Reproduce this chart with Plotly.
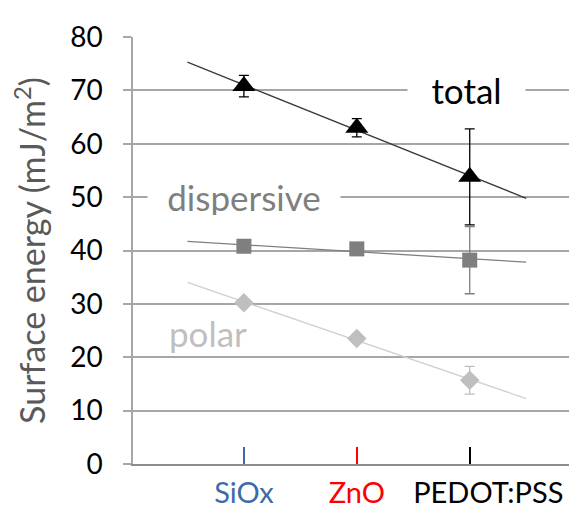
import numpy as np
import plotly.graph_objects as go

categories = ["SiOx", "ZnO", "PEDOT:PSS"]
cat_colors = ["#3E6AA6", "#FF0000", "#000000"]
x_pos = [0, 1, 2]

total = [70.8, 63.0, 53.8]
total_err = [2.0, 1.7, 9.0]
dispersive = [40.8, 40.3, 38.2]
dispersive_err = [0.6, 0.6, 6.3]
polar = [30.2, 23.5, 15.7]
polar_err = [0.6, 0.6, 2.6]

y_ticks = [0, 10, 20, 30, 40, 50, 60, 70, 80]

FONT = "Lato"
TREND_EXT = 0.5

def trend(yvals):
    k, b = np.polyfit(x_pos, yvals, 1)
    xs = np.array([x_pos[0] - TREND_EXT, x_pos[-1] + TREND_EXT])
    return xs, k * xs + b

series = [
    ("total", total, total_err, "#000000", "#3a3a3a", "triangle-up", 20, "x"),
    ("dispersive", dispersive, dispersive_err, "#7F7F7F", "#7F7F7F", "square", 15, "x2"),
    ("polar", polar, polar_err, "#BFBFBF", "#D0D0D0", "diamond", 15, "x3"),
]

fig = go.Figure()
for name, vals, err, col, tcol, sym, size, xa in series:
    tx, ty = trend(vals)
    fig.add_trace(go.Scatter(x=tx, y=ty, mode="lines", line=dict(color=tcol, width=1.3),
                             xaxis=xa, showlegend=False, hoverinfo="skip"))
    fig.add_trace(go.Scatter(x=x_pos, y=vals, mode="markers", name=name, xaxis=xa,
                             marker=dict(symbol=sym, size=size, color=col),
                             error_y=dict(type="data", array=err, color=col, thickness=1.3, width=5),
                             showlegend=False))

# dummy trace so the black-tick axis renders
fig.add_trace(go.Scatter(x=x_pos, y=total, xaxis="x4", mode="markers",
                         marker=dict(opacity=0), showlegend=False, hoverinfo="skip"))

rng = [-0.982, 2.95]
ticktext = [f'<span style="color:{c}">{t}</span>' for t, c in zip(categories, cat_colors)]
ticktext[2] = '&nbsp;&nbsp;&nbsp;&nbsp;&nbsp;' + ticktext[2]

def tick_axis(i):
    return dict(range=rng, overlaying="x", tickvals=[x_pos[i]], ticks="inside", ticklen=17,
                tickcolor=cat_colors[i], tickwidth=1.5, showticklabels=False,
                showgrid=False, zeroline=False, showline=False, automargin=False)

fig.update_layout(
    width=577, height=509,
    margin=dict(l=125, r=8, t=29, b=53, autoexpand=False),
    paper_bgcolor="white", plot_bgcolor="white",
    font=dict(family=FONT, color="#000000"),
    xaxis=dict(range=rng, tickvals=x_pos, ticktext=ticktext, tickangle=0,
               ticks="", showgrid=False, zeroline=False, automargin=False,
               showline=True, linecolor="#8C8C8C", linewidth=1.5,
               tickfont=dict(size=29, family=FONT), ticklabelstandoff=2),
    xaxis2=tick_axis(0),
    xaxis3=tick_axis(1),
    xaxis4=tick_axis(2),
    yaxis=dict(range=[0, 80], tickvals=y_ticks, showgrid=True, gridcolor="#A6A6A6", gridwidth=1.5,
               zeroline=False, showline=True, linecolor="#A6A6A6", linewidth=1.5, automargin=False,
               ticks="outside", ticklen=8, tickcolor="#A6A6A6", tickwidth=1.5,
               tickfont=dict(size=28, family=FONT, color="#000000"), ticklabelstandoff=15,
               title=dict(text="Surface energy (mJ/m<sup>2</sup>)", standoff=19,
                          font=dict(size=34, family=FONT, color="#595959"))),
)

fig.add_annotation(x=1.97, y=70, xref="x", yref="y", text="total", showarrow=False,
                   font=dict(size=35, family=FONT, color="#000000"),
                   bgcolor="white", width=115, height=34)
fig.add_annotation(x=0.0, y=50, xref="x", yref="y", text="dispersive", showarrow=False,
                   font=dict(size=35, family=FONT, color="#7F7F7F"),
                   bgcolor="white", width=190, height=36)
fig.add_annotation(x=-0.32, y=24.5, xref="x", yref="y", text="polar", showarrow=False,
                   font=dict(size=35, family=FONT, color="#BFBFBF"))

fig.write_html("out.html")
